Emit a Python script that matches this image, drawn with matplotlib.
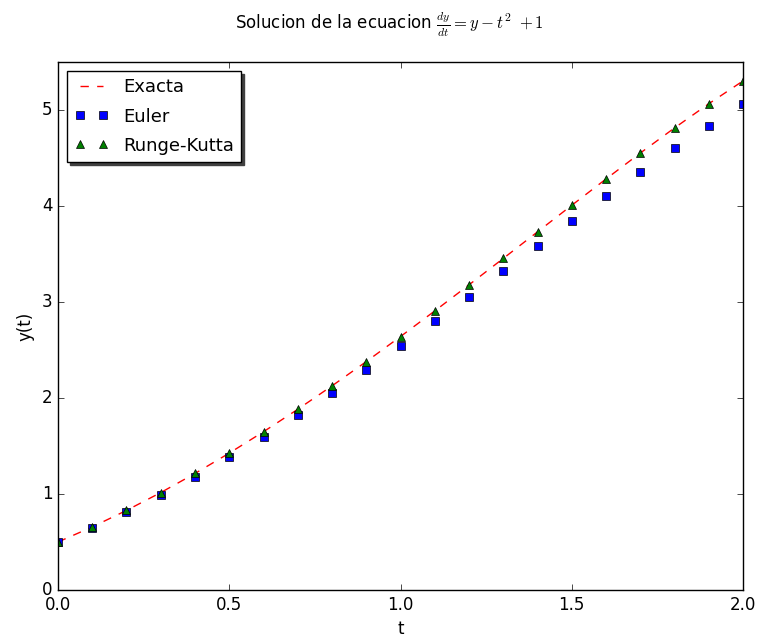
import matplotlib
matplotlib.use("Agg")
import matplotlib.pyplot as plt

plt.style.use("classic")

# === Datos ===
t = [0.0, 0.1, 0.2, 0.3, 0.4, 0.5, 0.6, 0.7, 0.8, 0.9, 1.0,
     1.1, 1.2, 1.3, 1.4, 1.5, 1.6, 1.7, 1.8, 1.9, 2.0]
y_exacta = [0.500, 0.657, 0.829, 1.015, 1.214, 1.426, 1.649, 1.883, 2.127, 2.380, 2.641,
            2.908, 3.180, 3.455, 3.732, 4.009, 4.283, 4.553, 4.815, 5.067, 5.305]
y_euler = [0.500, 0.650, 0.814, 0.991, 1.182, 1.384, 1.597, 1.821, 2.054, 2.295, 2.544,
           2.798, 3.057, 3.319, 3.582, 3.844, 4.103, 4.357, 4.604, 4.840, 5.064]
y_rk = [0.500, 0.657, 0.829, 1.015, 1.214, 1.426, 1.649, 1.883, 2.127, 2.380, 2.641,
        2.908, 3.180, 3.455, 3.732, 4.009, 4.283, 4.553, 4.815, 5.067, 5.305]

fig = plt.figure(figsize=(7.59, 6.41), dpi=100)
ax = fig.add_axes([0.0764, 0.0796, 0.9026, 0.8234])

ax.plot(t, y_exacta, "r--", label="Exacta")
ax.plot(t, y_euler, "bs", label="Euler")
ax.plot(t, y_rk, "g^", label="Runge-Kutta")

ax.set_xlim(0, 2)
ax.set_ylim(0, 5.5)
ax.set_xticks([0.0, 0.5, 1.0, 1.5, 2.0])
ax.set_yticks([0, 1, 2, 3, 4, 5])
ax.set_xlabel("t")
ax.set_ylabel("y(t)")
ax.legend(loc="upper left", fontsize=13, handlelength=1.9, labelspacing=0.62,
          shadow={"color": "0.25", "alpha": 1.0})

fig.suptitle(r"Solucion de la ecuacion $\frac{dy}{dt}=y-t^2\ +1$", x=0.513, y=0.985)

fig.savefig("out.png", dpi=100)
